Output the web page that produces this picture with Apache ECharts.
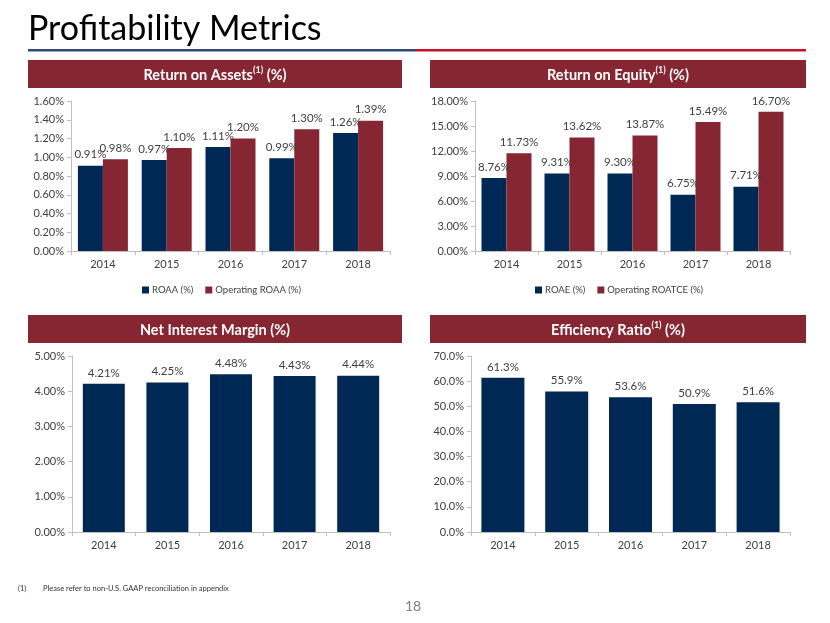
<!DOCTYPE html>
<html>
<head>
<meta charset="utf-8">
<script src="https://cdn.jsdelivr.net/npm/echarts@6/dist/echarts.min.js"></script>
<style>
html,body{margin:0;padding:0;background:#fff;}
#chart{width:830px;height:623px;}
</style>
</head>
<body>
<div id="chart"></div>
<script>
// ---- data ----
const years = ['2014', '2015', '2016', '2017', '2018'];
const roaa = [0.91, 0.97, 1.11, 0.99, 1.26];
const operatingRoaa = [0.98, 1.10, 1.20, 1.30, 1.39];
const roae = [8.76, 9.31, 9.30, 6.75, 7.71];
const operatingRoatce = [11.73, 13.62, 13.87, 15.49, 16.70];
const netInterestMargin = [4.21, 4.25, 4.48, 4.43, 4.44];
const efficiencyRatio = [61.3, 55.9, 53.6, 50.9, 51.6];
const roaAxis = {min: 0, max: 1.6, interval: 0.2, digits: 2};
const roeAxis = {min: 0, max: 18, interval: 3, digits: 2};
const nimAxis = {min: 0, max: 5, interval: 1, digits: 2};
const effAxis = {min: 0, max: 70, interval: 10, digits: 1};

const NAVY = '#002855';
const MAROON = '#862633';
const TXT = '#404040';
const FONT = 'Lato, "Open Sans", sans-serif';

const chart = echarts.init(document.getElementById('chart'), null, {renderer: 'canvas'});

function xAxis(gi) {
  return {
    type: 'category', gridIndex: gi, data: years,
    axisLine: {lineStyle: {color: '#bfbfbf', width: 1}},
    axisTick: {show: true, length: 4, lineStyle: {color: '#bfbfbf'}},
    axisLabel: {color: TXT, fontSize: 11, fontFamily: FONT, margin: 8}
  };
}
function yAxis(gi, ax) {
  return {
    type: 'value', gridIndex: gi, min: ax.min, max: ax.max, interval: ax.interval,
    splitLine: {show: false},
    axisLine: {show: true, lineStyle: {color: '#bfbfbf', width: 1}},
    axisTick: {show: true, length: 4, lineStyle: {color: '#bfbfbf'}},
    axisLabel: {color: TXT, fontSize: 11, fontFamily: FONT, margin: 7,
      formatter: v => v.toFixed(ax.digits) + '%'}
  };
}
function bar(name, data, gi, color, width, digits) {
  return {
    name: name, type: 'bar', xAxisIndex: gi, yAxisIndex: gi, data: data,
    barWidth: width, barGap: '0%',
    itemStyle: {color: color},
    label: {show: true, position: 'top', distance: 5, color: TXT, fontSize: 11.5, fontFamily: FONT,
      formatter: p => p.value.toFixed(digits) + '%'},
    emphasis: {disabled: true}
  };
}
function header(x, y, w, h, main, sup) {
  const text = sup ? '{m|' + main + '}{s|' + sup + '}{m| (%)}' : '{m|' + main + ' (%)}';
  return [
    {type: 'rect', left: x, top: y, shape: {width: w, height: h}, style: {fill: MAROON}, silent: true},
    {type: 'text', x: x + w / 2, y: y + h / 2 + 1, silent: true,
      style: {text: text, align: 'center', verticalAlign: 'middle',
        rich: {
          m: {fill: '#fff', fontSize: 14.5, fontWeight: 'bold', fontFamily: FONT, lineHeight: 18},
          s: {fill: '#fff', fontSize: 9, fontWeight: 'bold', fontFamily: FONT, lineHeight: 15, verticalAlign: 'top'}
        }}}
  ];
}
function legend(names, left) {
  return {data: names, left: left, top: 280, itemWidth: 7, itemHeight: 7, itemGap: 12,
    icon: 'rect', textStyle: {color: TXT, fontSize: 9.5, fontFamily: FONT, padding: [0, 0, 0, -2]},
    selectedMode: false};
}

const option = {
  backgroundColor: '#ffffff',
  animation: false,
  grid: [
    {left: 71, top: 101, width: 319, height: 150},
    {left: 475, top: 101, width: 315, height: 150},
    {left: 72, top: 356, width: 318, height: 176},
    {left: 471, top: 356, width: 319, height: 176}
  ],
  xAxis: [xAxis(0), xAxis(1), xAxis(2), xAxis(3)],
  yAxis: [yAxis(0, roaAxis), yAxis(1, roeAxis), yAxis(2, nimAxis), yAxis(3, effAxis)],
  legend: [
    legend(['ROAA (%)', 'Operating ROAA (%)'], 137),
    legend(['ROAE (%)', 'Operating ROATCE (%)'], 530)
  ],
  series: [
    bar('ROAA (%)', roaa, 0, NAVY, 25, 2),
    bar('Operating ROAA (%)', operatingRoaa, 0, MAROON, 25, 2),
    bar('ROAE (%)', roae, 1, NAVY, 25, 2),
    bar('Operating ROATCE (%)', operatingRoatce, 1, MAROON, 25, 2),
    bar('Net Interest Margin (%)', netInterestMargin, 2, NAVY, 42, 2),
    bar('Efficiency Ratio (%)', efficiencyRatio, 3, NAVY, 43, 1)
  ],
  graphic: [
    {type: 'text', left: 28, top: 12, silent: true,
      style: {text: 'Profitability Metrics', fill: '#000', fontSize: 34, fontFamily: FONT, fontWeight: 'normal'}},
    {type: 'rect', left: 28, top: 49, shape: {width: 388, height: 2.5}, style: {fill: '#2E4A7D'}, silent: true},
    {type: 'rect', left: 416, top: 49, shape: {width: 390, height: 2.5}, style: {fill: '#C8102E'}, silent: true},
    ...header(28, 60, 374, 28, 'Return on Assets', '(1)'),
    ...header(430, 60, 376, 28, 'Return on Equity', '(1)'),
    ...header(28, 315, 374, 28, 'Net Interest Margin', null),
    ...header(430, 315, 376, 28, 'Efficiency Ratio', '(1)'),
    {type: 'text', left: 18, top: 585, silent: true,
      style: {text: '(1)', fill: '#333', fontSize: 7.5, fontFamily: FONT}},
    {type: 'text', left: 43, top: 585, silent: true,
      style: {text: 'Please refer to non-U.S. GAAP reconciliation in appendix', fill: '#333', fontSize: 7.5, fontFamily: FONT}},
    {type: 'text', left: 405, top: 599, silent: true,
      style: {text: '18', fill: '#808080', fontSize: 14, fontFamily: FONT}}
  ]
};
chart.setOption(option);
</script>
</body>
</html>
